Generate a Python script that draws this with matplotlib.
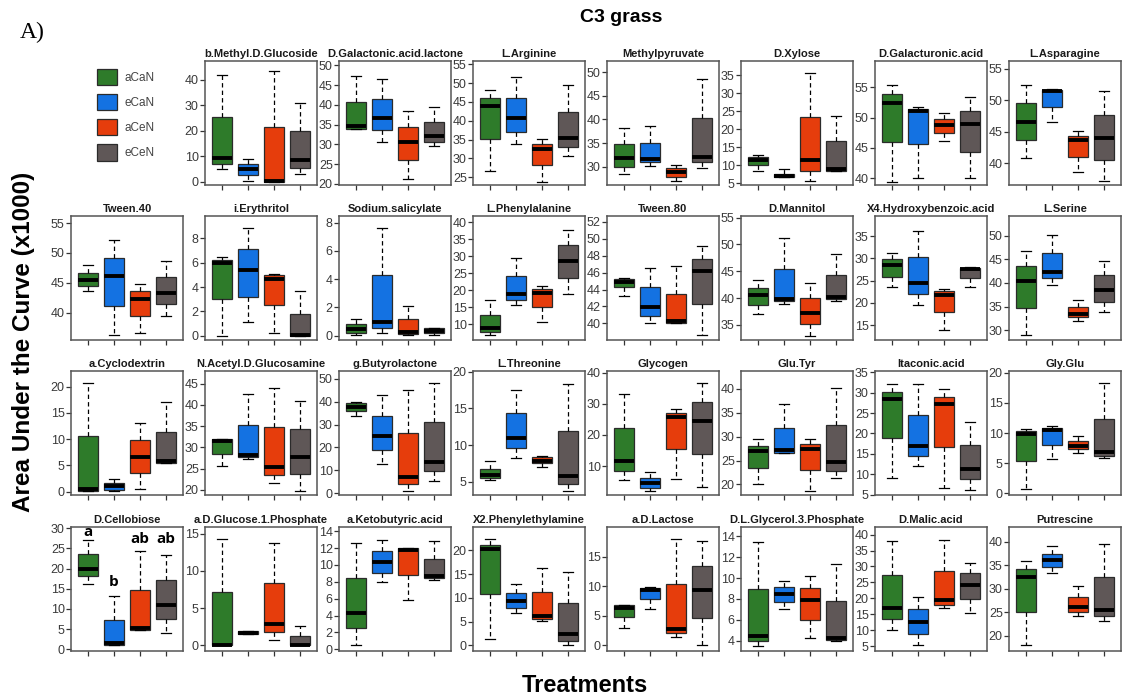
import matplotlib
matplotlib.use("Agg")
import matplotlib.pyplot as plt
from matplotlib.patches import Patch
from matplotlib.ticker import MultipleLocator, FormatStrFormatter

plt.rcParams['font.family'] = ['Liberation Sans', 'DejaVu Sans']

treatments = ['aCaN', 'eCaN', 'aCeN', 'eCeN']
colors = ['#2E7B2A', '#1472E2', '#E63D0C', '#5F5757']

substrates = [
    'b.Methyl.D.Glucoside', 'D.Galactonic.acid.lactone', 'L.Arginine', 'Methylpyruvate',
    'D.Xylose', 'D.Galacturonic.acid', 'L.Asparagine',
    'Tween.40', 'i.Erythritol', 'Sodium.salicylate', 'L.Phenylalanine',
    'Tween.80', 'D.Mannitol', 'X4.Hydroxybenzoic.acid', 'L.Serine',
    'a.Cyclodextrin', 'N.Acetyl.D.Glucosamine', 'g.Butyrolactone', 'L.Threonine',
    'Glycogen', 'Glu.Tyr', 'Itaconic.acid', 'Gly.Glu',
    'D.Cellobiose', 'a.D.Glucose.1.Phosphate', 'a.Ketobutyric.acid', 'X2.Phenylethylamine',
    'a.D.Lactose', 'D.L.Glycerol.3.Phosphate', 'D.Malic.acid', 'Putrescine',
]

# five-number summaries (x1000), one row per substrate, columns follow treatments
whisker_low = [
    [5, 0.3, 0, 3], [34, 30.7, 21.2, 29.6], [26.5, 33.7, 23.8, 30.5], [28.4, 30.2, 26.9, 29.8],
    [8.3, 6.7, 5.5, 8.5], [39.4, 40.1, 46.1, 40], [40.8, 46.6, 38.6, 37.2],
    [43.7, 36.2, 36.6, 39.5], [0, 1.1, 0.25, 0], [0.05, 0.16, 0.02, 0.05], [6.9, 15.8, 10.8, 18.8],
    [43.2, 40.0, 40.0, 38.6], [37.0, 38.9, 33.0, 39.4], [23.65, 19.6, 13.9, 23.65], [28.9, 39.6, 31.9, 33.9],
    [0.2, 0.2, 0.57, 5.4], [25.6, 27.2, 21.6, 19.8], [33.6, 12.6, 1.2, 5.5], [5.3, 8.2, 7.0, 3.7],
    [5.5, 2.0, 5.8, 3.3], [20.2, 26.6, 18.7, 21.25], [9.1, 11.9, 6.6, 6.05], [0.65, 5.7, 6.7, 5.85],
    [16.2, 1.0, 4.85, 4.05], [0, 1.55, 0.75, 0], [0.55, 7.95, 5.8, 8.2], [1.25, 6.75, 5.2, 0],
    [2.9, 6.15, 1.5, 0], [3.5, 7.0, 4.25, 4.0], [9.9, 5.2, 16.8, 15.5], [17.9, 33.4, 24.2, 23.2],
]
lower_quartile = [
    [7, 2.5, 0, 5.5], [34, 33.6, 26, 30.7], [35.2, 37.1, 28.1, 33.0], [30, 30.9, 27.8, 31],
    [10, 6.7, 8.4, 8.5], [46.0, 45.6, 47.4, 44.4], [43.7, 49.0, 41.1, 40.6],
    [44.4, 41.1, 39.4, 41.5], [3.0, 3.2, 2.5, 0], [0.16, 0.56, 0.1, 0.21], [7.7, 17.3, 15.0, 23.6],
    [44.3, 40.9, 40.04, 42.3], [38.7, 39.4, 35.2, 39.8], [25.85, 22.0, 18.0, 25.7], [34.6, 41.0, 32.7, 36.0],
    [0.2, 0.3, 3.56, 5.4], [28.5, 27.7, 23.4, 23.75], [35.9, 18.8, 4.2, 9.6], [5.5, 9.6, 7.5, 4.7],
    [8.4, 3.1, 15.6, 13.8], [23.5, 26.6, 23.1, 22.9], [18.8, 14.4, 16.7, 8.7], [5.3, 8.0, 7.3, 6.2],
    [18.1, 1.0, 4.85, 7.6], [0, 1.55, 1.76, 0], [2.5, 9.1, 8.8, 8.4], [10.7, 7.9, 5.5, 1.0],
    [4.75, 7.75, 2.1, 4.6], [3.94, 7.7, 6.0, 4.1], [13.4, 8.8, 18.0, 19.8], [25.1, 34.6, 25.1, 24.2],
]
median = [
    [9.5, 5, 0.3, 8.5], [34.6, 36.6, 30.7, 32.1], [43.9, 40.6, 32.6, 35.3], [31.9, 31.6, 28.8, 32.1],
    [11.3, 7.1, 11.4, 9.0], [52.4, 51.1, 48.7, 49.0], [46.6, 51.4, 43.7, 44.1],
    [45.4, 46.2, 42.3, 43.3], [6.0, 5.4, 4.65, 0.08], [0.5, 0.96, 0.26, 0.35], [8.8, 18.8, 19.25, 28.6],
    [44.9, 41.95, 40.3, 46.2], [40.5, 39.8, 37.3, 40.3], [28.5, 24.4, 21.9, 27.6], [40.4, 42.4, 33.5, 38.4],
    [0.6, 1.0, 6.6, 5.8], [31.4, 28.2, 25.3, 27.7], [37.7, 24.8, 7.0, 13.8], [5.9, 11.0, 7.8, 5.8],
    [11.6, 4.5, 25.7, 24.4], [27.0, 27.2, 27.4, 24.65], [28.4, 16.9, 27.1, 11.3], [9.9, 10.5, 7.9, 6.9],
    [20.0, 1.5, 5.4, 11.0], [0.05, 1.72, 2.9, 0.1], [4.3, 10.3, 11.8, 8.7], [20.2, 9.3, 6.2, 2.3],
    [6.25, 9.3, 2.8, 9.3], [4.4, 8.5, 7.85, 4.25], [16.8, 12.5, 19.35, 24.3], [32.5, 36.2, 26.0, 25.4],
]
upper_quartile = [
    [25.5, 7, 21.5, 20], [40.7, 41.6, 34.4, 35.7], [46.0, 46.0, 33.9, 42.4], [34.9, 35.1, 29.6, 40.4],
    [12.2, 7.6, 23.3, 16.7], [53.9, 51.4, 49.7, 51.1], [49.5, 51.6, 44.3, 47.6],
    [46.7, 49.1, 43.6, 45.9], [6.25, 7.1, 5.0, 1.82], [0.8, 4.28, 1.17, 0.54], [12.7, 24.1, 20.3, 33.4],
    [45.2, 44.3, 43.5, 47.6], [41.9, 45.5, 40.0, 44.4], [29.75, 30.2, 22.6, 27.9], [43.5, 46.3, 34.8, 41.75],
    [10.6, 1.6, 9.84, 11.4], [31.9, 35.4, 34.7, 34.3], [39.3, 33.8, 26.1, 31.0], [6.7, 14.35, 8.4, 11.96],
    [22.2, 6.3, 27.1, 30.5], [28.05, 31.8, 28.5, 32.4], [30.1, 24.5, 29.0, 17.1], [10.3, 10.9, 8.6, 12.4],
    [23.6, 7.2, 14.8, 17.15], [7.15, 1.9, 8.4, 1.24], [8.5, 11.7, 12.0, 10.75], [21.2, 11.0, 11.2, 8.8],
    [6.8, 9.75, 10.3, 13.45], [8.94, 9.1, 9.0, 7.84], [27.3, 16.5, 28.65, 27.8], [34.2, 37.5, 28.3, 32.5],
]
whisker_high = [
    [42, 9, 43.5, 31], [47.2, 46.5, 38.4, 39.4], [48.3, 51.6, 35.2, 49.4], [38.1, 38.6, 30.4, 48.5],
    [12.8, 8.9, 35.6, 23.7], [55.4, 51.8, 50.7, 53.4], [52.4, 51.8, 45.2, 51.4],
    [48.0, 52.2, 44.8, 48.6], [6.5, 8.9, 5.05, 3.7], [1.2, 7.65, 2.08, 0.54], [17.1, 29.6, 21.3, 37.8],
    [45.4, 46.5, 46.8, 49.1], [43.3, 51.2, 42.8, 48.3], [31.3, 36.1, 23.1, 28.0], [46.8, 50.1, 36.3, 44.7],
    [20.8, 2.5, 13.1, 17.0], [31.9, 42.7, 44.1, 40.9], [40.0, 43.0, 45.2, 48.1], [7.85, 17.5, 8.45, 18.3],
    [33.1, 8.2, 28.4, 36.7], [29.5, 36.9, 29.5, 40.1], [32.0, 32.1, 30.9, 22.9], [10.65, 11.2, 9.45, 18.3],
    [27.2, 13.1, 24.4, 23.4], [14.25, 1.9, 13.8, 2.55], [12.65, 13.0, 12.0, 12.85], [22.3, 12.8, 16.3, 15.5],
    [6.9, 9.8, 17.9, 17.6], [13.5, 9.75, 10.2, 11.33], [38.1, 20.4, 38.3, 31.0], [35.9, 39.1, 30.6, 39.6],
]

# axis ranges and tick steps per panel
y_limits = [
    (-1.3, 47.4), (19.7, 51.1), (22.9, 55.9), (26.1, 52.4), (4.5, 38.9), (38.9, 59.3), (36.6, 56.2),
    (35.4, 56.2), (-0.35, 9.85), (-0.3, 8.47), (5.4, 41.9), (38.05, 52.66), (32.2, 55.3), (11.7, 39.5), (27.9, 54.2),
    (-0.63, 23.0), (18.8, 48.0), (-0.7, 53.3), (3.2, 20.1), (0.7, 40.5), (17.8, 43.7), (4.9, 35.3), (-0.3, 20.3),
    (-0.4, 30.3), (-0.75, 15.9), (-0.2, 14.5), (-1.2, 24.9), (-0.94, 19.98), (3.0, 14.9), (3.45, 42.4), (16.7, 43.2),
]
tick_steps = [10, 5, 5, 5, 5, 5, 5,
              5, 2, 2, 5, 2, 5, 5, 5,
              5, 5, 10, 5, 10, 5, 5, 5,
              5, 5, 2, 5, 5, 2, 5, 5]

# significance letters for D.Cellobiose
cellobiose_letters = ['a', 'b', 'ab', 'ab']
cellobiose_letter_y = [29.0, 16.8, 27.4, 27.4]

W, H = 1125, 700
fig = plt.figure(figsize=(W / 100, H / 100), dpi=100)

# grid geometry in pixels
col_left = [71 + 134 * c for c in range(8)]
row_top = [61, 216, 371, 527]
ax_w, ax_h = 112, 124

cells = [(0, c) for c in range(1, 8)] + [(r, c) for r in range(1, 4) for c in range(8)]

for i, (r, c) in enumerate(cells):
    left = col_left[c] / W
    bottom = 1 - (row_top[r] + ax_h) / H
    ax = fig.add_axes([left, bottom, ax_w / W, ax_h / H])

    stats = []
    for g in range(4):
        stats.append(dict(whislo=whisker_low[i][g], q1=lower_quartile[i][g], med=median[i][g],
                          q3=upper_quartile[i][g], whishi=whisker_high[i][g], fliers=[]))
    bp = ax.bxp(stats, positions=[1, 2, 3, 4], widths=0.8, capwidths=0.4,
                patch_artist=True, showfliers=False,
                boxprops=dict(edgecolor='#2b2b2b', linewidth=0.9),
                medianprops=dict(color='black', linewidth=2.8, solid_capstyle='butt'),
                whiskerprops=dict(color='black', linewidth=0.9, linestyle=(0, (3.5, 2.5))),
                capprops=dict(color='black', linewidth=0.9))
    for patch, col in zip(bp['boxes'], colors):
        patch.set_facecolor(col)

    ax.set_xlim(0.34, 4.66)
    ax.set_ylim(*y_limits[i])
    ax.yaxis.set_major_locator(MultipleLocator(tick_steps[i]))
    ax.yaxis.set_major_formatter(FormatStrFormatter('%d'))
    ax.set_xticks([1, 2, 3, 4])
    ax.set_xticklabels([])
    ax.tick_params(direction='out', length=3.5, width=0.9, color='#333333',
                   labelsize=9, labelcolor='#3a3a3a', pad=1)
    for s in ax.spines.values():
        s.set_color('#555555')
        s.set_linewidth(1.1)
    ax.set_title(substrates[i], fontsize=8, fontweight='bold', pad=3, color='#1a1a1a')

    if substrates[i] == 'D.Cellobiose':
        for x, (lab, y) in enumerate(zip(cellobiose_letters, cellobiose_letter_y), start=1):
            ax.text(x, y, lab, ha='center', va='center', fontsize=11,
                    fontweight='bold', family='Open Sans', color='black')

# legend in the empty first cell
handles = [Patch(facecolor=col, edgecolor='#2b2b2b', linewidth=0.9) for col in colors]
leg = fig.legend(handles, treatments, loc='upper left',
                 bbox_to_anchor=(92 / W, 1 - 64 / H), frameon=False,
                 fontsize=8.5, handlelength=1.75, handleheight=1.75,
                 labelspacing=0.75, handletextpad=0.6, borderaxespad=0)
for t in leg.get_texts():
    t.set_color('#444444')

fig.text(621 / W, 1 - 18 / H, 'C3 grass', ha='center', va='center',
         fontsize=14, fontweight='bold')
fig.text(20 / W, 1 - 32 / H, 'A)', ha='left', va='center',
         fontsize=17, family='Liberation Serif')
fig.text(24 / W, 1 - 342 / H, 'Area Under the Curve (x1000)', ha='center', va='center',
         rotation=90, fontsize=17.5, fontweight='bold')
fig.text(585 / W, 1 - 685 / H, 'Treatments', ha='center', va='center',
         fontsize=17, fontweight='bold')

fig.savefig('out.png', dpi=100)
